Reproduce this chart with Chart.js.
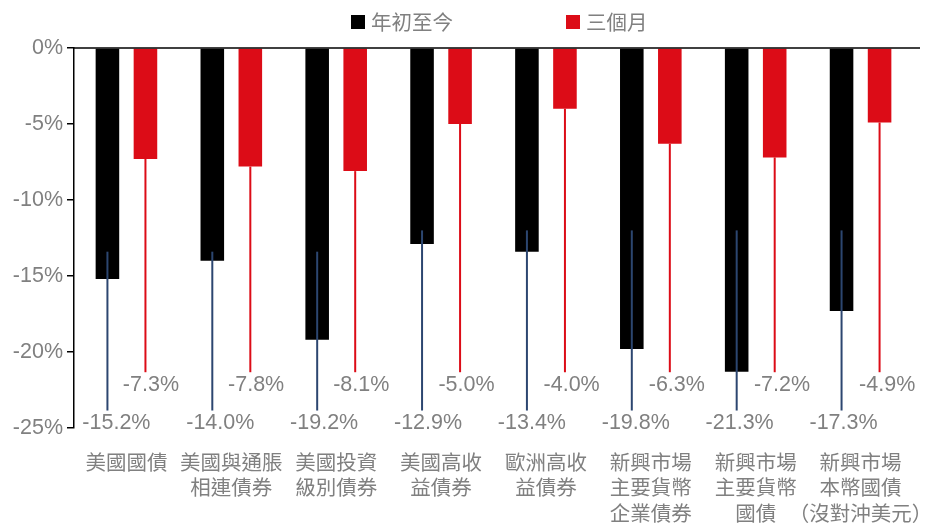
<!DOCTYPE html>
<html>
<head>
<meta charset="utf-8">
<script src="https://cdn.jsdelivr.net/npm/chart.js@4"></script>
<style>
  html, body { margin: 0; padding: 0; background: #fff; }
  #wrap { width: 935px; height: 524px; }
</style>
</head>
<body>
<div id="wrap"><canvas id="bondChart" width="935" height="524"></canvas></div>
<script>
const categories = [
  ['美國國債'],
  ['美國與通脹', '相連債券'],
  ['美國投資', '級別債券'],
  ['美國高收', '益債券'],
  ['歐洲高收', '益債券'],
  ['新興市場', '主要貨幣', '企業債券'],
  ['新興市場', '主要貨幣', '國債'],
  ['新興市場', '本幣國債', '（沒對沖美元）']
];
const seriesLabels = ['年初至今', '三個月'];
const ytdValues = [-15.2, -14.0, -19.2, -12.9, -13.4, -19.8, -21.3, -17.3];
const threeMonthValues = [-7.3, -7.8, -8.1, -5.0, -4.0, -6.3, -7.2, -4.9];
const yTicks = [0, -5, -10, -15, -20, -25];

const GRAY = '#808080';
const RED = '#dc0c17';
const NAVY = '#2c4670';
const NUM_FONT = '21.5px "Liberation Sans", Arial, sans-serif';
const CJK_FONT = '"Noto Sans CJK TC", "Noto Sans CJK SC", sans-serif';

// leader lines, value labels, zero line and legend
const leaderPlugin = {
  id: 'leaderLabels',
  afterDatasetsDraw(chart) {
    const { ctx, chartArea, scales: { y } } = chart;
    const ytdBars = chart.getDatasetMeta(0).data;
    const tmBars = chart.getDatasetMeta(1).data;
    ctx.save();
    ctx.lineWidth = 2;

    ytdBars.forEach((bar, i) => {
      ctx.strokeStyle = NAVY;
      ctx.beginPath();
      ctx.moveTo(bar.x, y.getPixelForValue(i < 3 ? -13.4 : -12));
      ctx.lineTo(bar.x, y.getPixelForValue(-23.85));
      ctx.stroke();
    });
    tmBars.forEach((bar) => {
      ctx.strokeStyle = RED;
      ctx.beginPath();
      ctx.moveTo(bar.x, bar.y);
      ctx.lineTo(bar.x, y.getPixelForValue(-21.33));
      ctx.stroke();
    });

    // zero line
    ctx.strokeStyle = '#000';
    ctx.lineWidth = 1.5;
    ctx.beginPath();
    ctx.moveTo(chartArea.left, y.getPixelForValue(0));
    ctx.lineTo(chartArea.right + 7, y.getPixelForValue(0));
    ctx.stroke();

    ctx.font = NUM_FONT;
    ctx.fillStyle = GRAY;
    ctx.textAlign = 'center';
    ctx.textBaseline = 'middle';
    ytdBars.forEach((bar, i) => {
      ctx.fillText(ytdValues[i].toFixed(1) + '%', bar.x + 9 - i, y.getPixelForValue(-24.67));
    });
    tmBars.forEach((bar, i) => {
      ctx.fillText(threeMonthValues[i].toFixed(1) + '%', bar.x + 5.5 + 0.3 * i, y.getPixelForValue(-22.2));
    });
    ctx.restore();
  },
  afterDraw(chart) {
    const { ctx } = chart;
    const items = [
      { x: 351, color: '#000' },
      { x: 566, color: RED }
    ];
    ctx.save();
    ctx.font = '20.5px ' + CJK_FONT;
    ctx.textBaseline = 'middle';
    ctx.textAlign = 'left';
    items.forEach((it, i) => {
      ctx.fillStyle = chart.data.datasets[i].backgroundColor;
      ctx.fillRect(it.x, 15, 14, 14);
      ctx.fillStyle = GRAY;
      ctx.fillText(chart.data.datasets[i].label, it.x + 20, 22);
    });
    ctx.restore();
  }
};

const ctx = document.getElementById('bondChart').getContext('2d');
new Chart(ctx, {
  type: 'bar',
  data: {
    labels: categories,
    datasets: [
      { label: seriesLabels[0], data: ytdValues, backgroundColor: '#000' },
      { label: seriesLabels[1], data: threeMonthValues, backgroundColor: RED }
    ]
  },
  options: {
    responsive: false,
    animation: false,
    devicePixelRatio: 1,
    categoryPercentage: 0.725,
    barPercentage: 0.62,
    layout: { padding: { top: 48, right: 22, bottom: 0, left: 0 } },
    plugins: {
      legend: { display: false },
      tooltip: { enabled: false }
    },
    scales: {
      x: {
        grid: { display: false },
        border: { display: false },
        ticks: {
          autoSkip: false,
          maxRotation: 0,
          minRotation: 0,
          padding: 13,
          color: GRAY,
          font: { family: CJK_FONT, size: 20.5, lineHeight: '25.5px' }
        },
        afterFit(scale) {
          scale.height = 96;
          scale.paddingLeft = 0;
          scale.paddingRight = 0;
        }
      },
      y: {
        min: -25,
        max: 0,
        border: { display: true, color: '#000', width: 1.5 },
        grid: { drawOnChartArea: false, drawTicks: true, tickLength: 7, color: '#000', lineWidth: 1.5 },
        ticks: {
          padding: 4,
          color: GRAY,
          font: { family: '"Liberation Sans", Arial, sans-serif', size: 21.5 },
          callback: (v) => v + '%'
        },
        afterBuildTicks(scale) { scale.ticks = yTicks.map(v => ({ value: v })); },
        afterFit(scale) {
          scale.width = 74;
          scale.paddingTop = 0;
          scale.paddingBottom = 0;
        }
      }
    }
  },
  plugins: [leaderPlugin]
});
</script>
</body>
</html>
